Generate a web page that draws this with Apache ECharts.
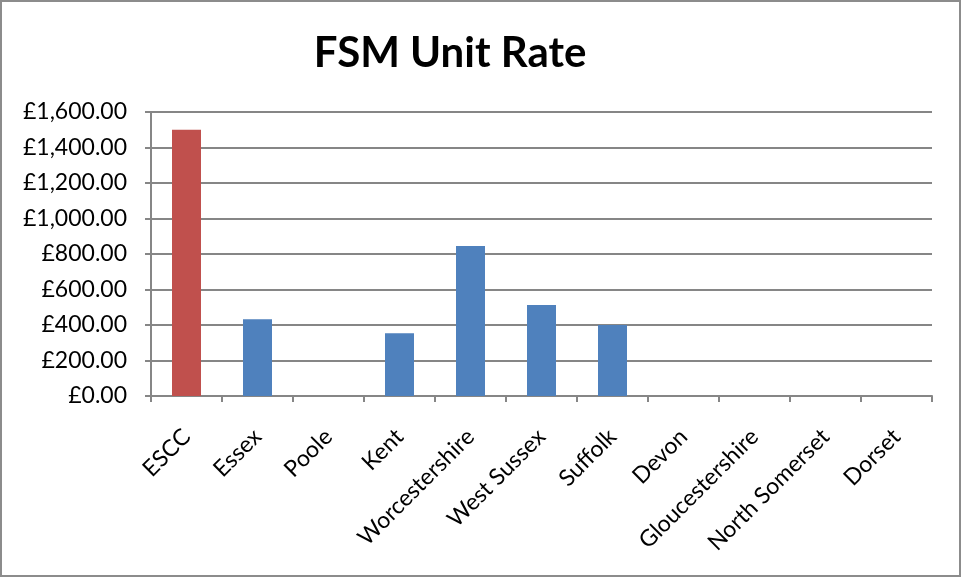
<!DOCTYPE html>
<html>
<head>
	<meta http-equiv="Content-Type" content="text/html;charset=utf-8">
	<title>FSM Unit Rate</title>
	<style>
		html, body { margin: 0; padding: 0; background: #fff; }
		#chart {
			width: 957px;
			height: 573px;
			border: 2px solid #8c8c8c;
		}
	</style>
</head>
<body>
<div id="chart"></div>
<script src="https://cdn.jsdelivr.net/npm/echarts@6/dist/echarts.min.js"></script>
<script>
	// 数据
	var categories = ['ESCC', 'Essex', 'Poole', 'Kent', 'Worcestershire', 'West Sussex', 'Suffolk', 'Devon', 'Gloucestershire', 'North Somerset', 'Dorset'];
	var unitRates = [1500, 433, 0, 354, 845, 512, 400, 0, 0, 0, 0];
	var highlightName = 'ESCC';

	var barColor = '#4F81BD';
	var highlightColor = '#C0504D';
	var lineColor = '#868686';
	var fontFamily = 'Lato, "Open Sans", sans-serif';

	function money(v){
		var s = v.toFixed(2).split('.');
		return '£' + s[0].replace(/\B(?=(\d{3})+(?!\d))/g, ',') + '.' + s[1];
	}

	var barData = categories.map(function(c, i){
		return {
			value: unitRates[i],
			itemStyle: { color: c === highlightName ? highlightColor : barColor }
		};
	});

	var option = {
		animation: false,
		title: {
			text: 'FSM Unit Rate',
			left: 443,
			top: 25,
			textAlign: 'center',
			textStyle: { fontFamily: fontFamily, fontSize: 42, fontWeight: 'bold', color: '#000' }
		},
		grid: { left: 149, right: 27, top: 110, bottom: 179 },
		xAxis: {
			type: 'category',
			data: categories,
			axisLine: { lineStyle: { color: lineColor, width: 2 } },
			axisTick: { show: true, length: 6, lineStyle: { color: lineColor, width: 2 } },
			axisLabel: {
				rotate: 45,
				margin: 37,
				interval: 0,
				fontFamily: fontFamily,
				fontSize: 23,
				color: '#000'
			}
		},
		yAxis: {
			type: 'value',
			min: 0,
			max: 1600,
			interval: 200,
			axisLine: { show: true, lineStyle: { color: lineColor, width: 2 } },
			axisTick: { show: true, length: 6, lineStyle: { color: lineColor, width: 2 } },
			splitLine: { lineStyle: { color: lineColor, width: 2 } },
			axisLabel: {
				margin: 24,
				fontFamily: fontFamily,
				fontSize: 23,
				color: '#000',
				formatter: money
			}
		},
		series: [{
			type: 'bar',
			data: barData,
			barWidth: 29
		}]
	};

	var myChart = echarts.init(document.getElementById('chart'));
	myChart.setOption(option);
</script>
</body>
</html>
